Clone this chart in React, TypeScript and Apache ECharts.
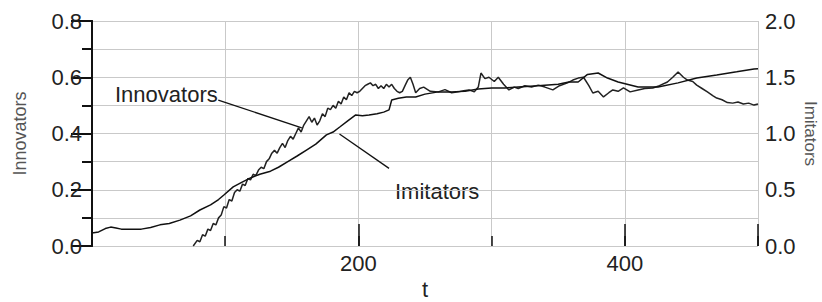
import React, { useEffect, useRef } from "react";
import * as echarts from "echarts";

// Innovators (left axis) — noisy curve
const innovT = [76, 79, 81, 83, 85, 87, 89, 91, 93, 95, 97, 99, 101, 103, 105, 107, 109, 111, 113, 115, 117, 119, 121, 123, 125, 127, 129, 131, 133, 135, 137, 139, 141, 143, 145, 147, 149, 151, 153, 155, 157, 159, 161, 163, 165, 167, 169, 171, 173, 175, 177, 179, 181, 183, 185, 187, 189, 191, 193, 195, 197, 199, 201, 203, 205, 207, 209, 211, 213, 215, 217, 219, 221, 223, 225, 227, 229, 231, 233, 235, 237, 239, 241, 243, 246, 249, 254, 260, 265, 270, 275, 279, 283, 287, 290, 292, 295, 298, 302, 305, 309, 313, 317, 320, 325, 330, 335, 340, 346, 351, 357, 361, 365, 369, 373, 376, 380, 384, 388, 391, 395, 399, 404, 410, 415, 421, 426, 432, 436, 440, 444, 447, 451, 454, 458, 462, 466, 469, 473, 477, 481, 485, 489, 493, 497, 500];
const innovV = [0.0, 0.02, 0.015, 0.04, 0.035, 0.06, 0.055, 0.08, 0.075, 0.1, 0.11, 0.14, 0.135, 0.165, 0.16, 0.19, 0.2, 0.195, 0.22, 0.215, 0.24, 0.235, 0.255, 0.25, 0.27, 0.28, 0.275, 0.3, 0.31, 0.33, 0.34, 0.33, 0.35, 0.365, 0.35, 0.375, 0.39, 0.38, 0.4, 0.42, 0.405, 0.43, 0.445, 0.46, 0.44, 0.455, 0.43, 0.445, 0.47, 0.46, 0.49, 0.485, 0.5, 0.49, 0.515, 0.505, 0.53, 0.52, 0.545, 0.535, 0.55, 0.545, 0.55, 0.56, 0.57, 0.575, 0.58, 0.57, 0.575, 0.56, 0.57, 0.56, 0.575, 0.565, 0.575, 0.56, 0.55, 0.545, 0.55, 0.57, 0.59, 0.6, 0.575, 0.545, 0.56, 0.565, 0.55, 0.548, 0.556, 0.545, 0.548, 0.552, 0.555, 0.548, 0.565, 0.615, 0.595, 0.6, 0.585, 0.6, 0.575, 0.555, 0.565, 0.56, 0.57, 0.565, 0.572, 0.565, 0.555, 0.57, 0.58, 0.59, 0.597, 0.6, 0.57, 0.544, 0.55, 0.53, 0.545, 0.555, 0.55, 0.562, 0.548, 0.555, 0.56, 0.562, 0.57, 0.583, 0.6, 0.619, 0.6, 0.59, 0.585, 0.572, 0.56, 0.548, 0.535, 0.526, 0.52, 0.51, 0.508, 0.512, 0.505, 0.508, 0.501, 0.505];

// Imitators (right axis)
const imitT = [0, 5, 10, 14, 18, 22, 30, 37, 44, 51, 58, 66, 74, 81, 89, 95, 99, 106, 112, 119, 126, 134, 140, 147, 154, 161, 168, 176, 181, 186, 192, 198, 203, 208, 214, 219, 223, 225, 230, 236, 243, 250, 260, 270, 280, 290, 300, 310, 320, 335, 350, 358, 365, 372, 380, 387, 395, 410, 425, 440, 454, 469, 484, 497, 500];
const imitV = [0.115, 0.125, 0.155, 0.168, 0.16, 0.15, 0.15, 0.15, 0.165, 0.188, 0.2, 0.23, 0.268, 0.32, 0.365, 0.413, 0.453, 0.525, 0.563, 0.605, 0.638, 0.665, 0.7, 0.75, 0.8, 0.853, 0.905, 0.988, 1.013, 1.058, 1.113, 1.165, 1.158, 1.165, 1.175, 1.19, 1.21, 1.298, 1.313, 1.325, 1.325, 1.35, 1.37, 1.37, 1.375, 1.395, 1.405, 1.405, 1.413, 1.425, 1.438, 1.458, 1.458, 1.525, 1.538, 1.493, 1.458, 1.413, 1.413, 1.45, 1.493, 1.52, 1.548, 1.573, 1.575];

// Pointer lines for annotations (data coordinates)
const innovPointer = [[94.8, 0.519], [157.5, 0.42]];
const imitPointer = [[185.8, 0.996], [223.0, 0.69]];

const xLabels = [200, 400];
const FONT = "'Liberation Sans', Arial, sans-serif";

export default function App() {
  const ref = useRef<HTMLDivElement>(null);
  useEffect(() => {
    if (!ref.current) return;
    const chart = echarts.init(ref.current, null, { renderer: "svg" });
    const grid = "#c9c9c9";
    chart.setOption({
      animation: false,
      backgroundColor: "#ffffff",
      textStyle: { fontFamily: FONT },
      grid: { left: 92, right: 64, top: 21, bottom: 56, containLabel: false, outerBoundsMode: "none" },
      xAxis: [
        {
          type: "value",
          min: 0,
          max: 500,
          interval: 100,
          name: "t",
          nameLocation: "middle",
          nameGap: 29,
          nameTextStyle: { fontSize: 22, color: "#222", fontFamily: FONT },
          axisLine: { show: false },
          axisTick: { show: true, inside: true, length: 10, lineStyle: { color: "#111", width: 1.5 } },
          axisLabel: {
            margin: 6,
            fontSize: 22,
            color: "#222",
            fontFamily: FONT,
            formatter: (v: number) => (xLabels.includes(v) ? String(v) : ""),
          },
          splitLine: { show: true, lineStyle: { color: grid, width: 1 } },
        },
        {
          type: "value",
          min: 0,
          max: 500,
          interval: 200,
          position: "bottom",
          axisLine: { show: false },
          axisTick: { show: true, inside: true, length: 22, lineStyle: { color: "#111", width: 1.5 } },
          axisLabel: { show: false },
          splitLine: { show: false },
        },
      ],
      yAxis: [
        {
          type: "value",
          min: 0,
          max: 0.8,
          interval: 0.1,
          position: "left",
          name: "Innovators",
          nameLocation: "middle",
          nameGap: 63,
          nameTextStyle: { fontSize: 18, color: "#555", fontFamily: FONT },
          axisLine: { show: true, lineStyle: { color: "#111", width: 2 } },
          axisTick: { show: false },
          axisLabel: {
            margin: 10,
            fontSize: 22,
            color: "#222",
            fontFamily: FONT,
            formatter: (v: number) => (Math.round(v * 10) % 2 === 0 ? v.toFixed(1) : ""),
          },
          splitLine: { show: true, lineStyle: { color: grid, width: 1 } },
        },
        {
          type: "value",
          min: 0,
          max: 2,
          interval: 0.5,
          position: "right",
          name: "Imitators",
          nameLocation: "middle",
          nameRotate: -90,
          nameGap: 44,
          nameMoveOverlap: false,
          nameTextStyle: { fontSize: 17, color: "#555", fontFamily: FONT },
          axisLine: { show: true, lineStyle: { color: "#111", width: 2 } },
          axisTick: { show: true, inside: true, length: 21, lineStyle: { color: "#111", width: 2 } },
          minorTick: { show: true, splitNumber: 2, length: 10, lineStyle: { color: "#111", width: 2 } },
          axisLabel: {
            margin: 7,
            fontSize: 22,
            color: "#222",
            fontFamily: FONT,
            formatter: (v: number) => v.toFixed(1),
          },
          splitLine: { show: false },
        },
      ],
      series: [
        {
          name: "Innovators",
          type: "line",
          xAxisIndex: 0,
          yAxisIndex: 0,
          showSymbol: false,
          symbol: "none",
          lineStyle: { color: "#222", width: 1.5 },
          data: innovT.map((t, i) => [t, innovV[i]]),
          markLine: {
            silent: true,
            symbol: "none",
            label: { show: false },
            lineStyle: { color: "#111", width: 1.3, type: "solid" },
            data: [[{ coord: innovPointer[0] }, { coord: innovPointer[1] }]],
          },
        },
        {
          name: "Imitators",
          type: "line",
          xAxisIndex: 0,
          yAxisIndex: 1,
          showSymbol: false,
          symbol: "none",
          lineStyle: { color: "#111", width: 1.5 },
          data: imitT.map((t, i) => [t, imitV[i]]),
          markLine: {
            silent: true,
            symbol: "none",
            label: { show: false },
            lineStyle: { color: "#111", width: 1.3, type: "solid" },
            data: [[{ coord: imitPointer[0] }, { coord: imitPointer[1] }]],
          },
        },
      ],
      graphic: [
        {
          type: "text",
          left: 115,
          top: 83,
          style: { text: "Innovators", fontSize: 22, fill: "#222", fontFamily: FONT },
        },
        {
          type: "text",
          left: 395,
          top: 180,
          style: { text: "Imitators", fontSize: 22, fill: "#222", fontFamily: FONT },
        },
      ],
    });
    return () => chart.dispose();
  }, []);
  return (
    <div
      ref={ref}
      style={{ position: "fixed", left: 0, top: 0, width: 822, height: 302, background: "#fff" }}
    />
  );
}
